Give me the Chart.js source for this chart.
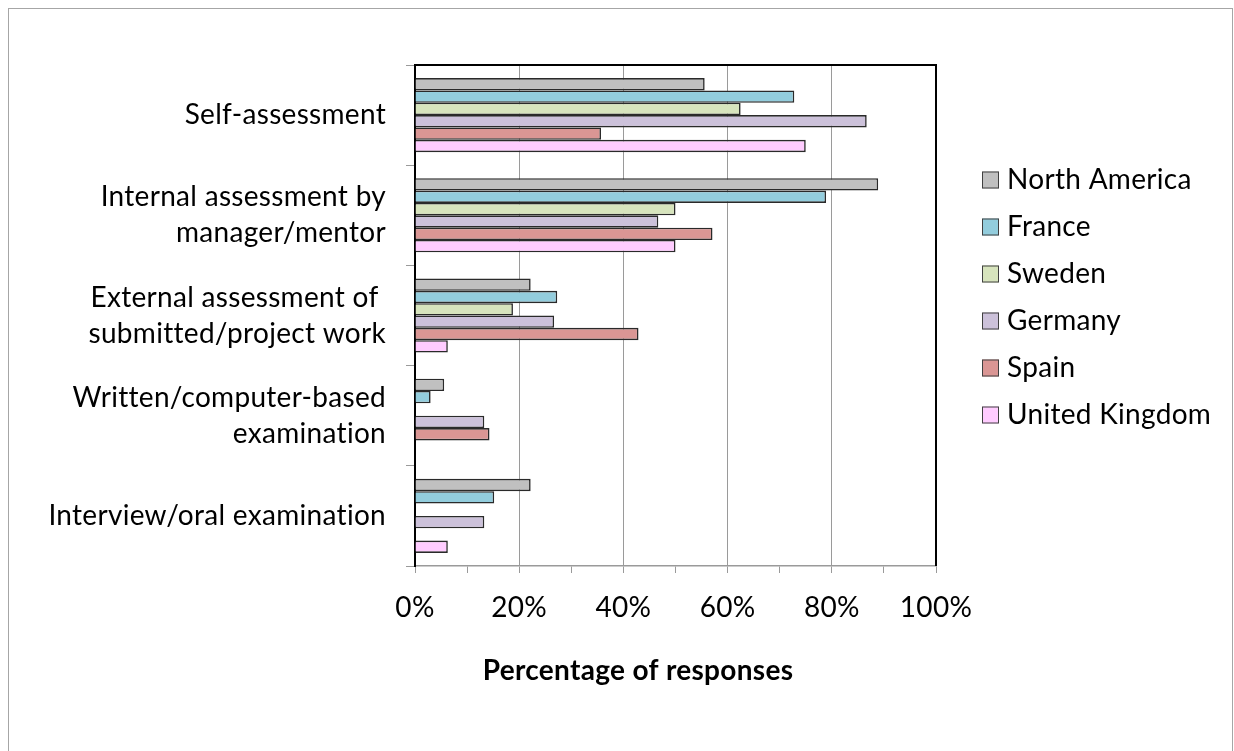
<!DOCTYPE html>
<html>
<head>
<meta charset="utf-8">
<title>Assessment methods</title>
<script src="https://cdn.jsdelivr.net/npm/chart.js@4.4.1/dist/chart.umd.min.js"></script>
<style>
    html, body { margin: 0; padding: 0; background: #fff; overflow: hidden; }
    #wrap { position: relative; width: 1234px; height: 751px; }
    #frame {
        position: absolute; left: 8px; top: 8px; width: 1225px; height: 800px;
        box-sizing: border-box; border: 1px solid #a6a6a6; pointer-events: none;
    }
    canvas { position: absolute; left: 0; top: 0; }
</style>
</head>
<body>
<div id="wrap">
    <canvas id="chart" width="1234" height="751"></canvas>
    <div id="frame"></div>
</div>
<script>
// Данные
const categories = [
    'Self-assessment',
    ['Internal assessment by', 'manager/mentor'],
    ['External assessment of ', 'submitted/project work'],
    ['Written/computer-based', 'examination'],
    'Interview/oral examination'
];
const seriesNames = ['North America', 'France', 'Sweden', 'Germany', 'Spain', 'United Kingdom'];
const northAmerica = [55.6, 88.9, 22.2, 5.6, 22.2];
const france = [72.8, 78.9, 27.3, 3.0, 15.2];
const sweden = [62.5, 50.0, 18.8, 0, 0];
const germany = [86.7, 46.7, 26.7, 13.3, 13.3];
const spain = [35.7, 57.1, 42.9, 14.3, 0];
const unitedKingdom = [75.0, 50.0, 6.3, 0, 6.3];
const xTicks = [0, 20, 40, 60, 80, 100];

const seriesValues = [northAmerica, france, sweden, germany, spain, unitedKingdom];
const seriesColors = ['#c0c0c0', '#93cddd', '#d7e4bd', '#ccc1da', '#da9694', '#ffccff'];

const FONT = 'Lato, "Open Sans", sans-serif';
const FONT_SIZE = 28;

// Рамка области построения, легенда и подпись оси
const decorPlugin = {
    id: 'decor',
    beforeDraw(chart) {
        // небольшой трекинг, заодно отключает лигатуру "ti" у Lato
        chart.ctx.letterSpacing = '0.3px';
    },
    afterDatasetsDraw(chart) {
        const { ctx, chartArea: a } = chart;
        ctx.save();
        ctx.strokeStyle = '#000';
        ctx.lineWidth = 2;
        ctx.beginPath();
        ctx.moveTo(a.left, a.top);
        ctx.lineTo(a.right, a.top);
        ctx.lineTo(a.right, a.bottom);
        ctx.stroke();
        ctx.restore();
    },
    afterDraw(chart) {
        const ctx = chart.ctx;
        ctx.save();
        ctx.textBaseline = 'middle';
        ctx.textAlign = 'left';
        ctx.font = FONT_SIZE + 'px ' + FONT;
        chart.data.datasets.forEach((ds, i) => {
            const y = 180 + i * 47;
            ctx.fillStyle = ds.backgroundColor;
            ctx.fillRect(982, y - 8.5, 17, 17);
            ctx.strokeStyle = '#404040';
            ctx.lineWidth = 1;
            ctx.strokeRect(982.5, y - 8, 16, 16);
            ctx.fillStyle = '#000';
            ctx.fillText(ds.label, 1007, y);
        });
        ctx.font = 'bold ' + FONT_SIZE + 'px ' + FONT;
        ctx.textAlign = 'center';
        ctx.fillText('Percentage of responses', 638, 671);
        ctx.restore();
    }
};

const ctx = document.getElementById('chart');
new Chart(ctx, {
    type: 'bar',
    data: {
        labels: categories,
        datasets: seriesNames.map((name, i) => ({
            label: name,
            data: seriesValues[i],
            backgroundColor: seriesColors[i],
            borderColor: '#2a2a2a',
            borderWidth: 1.6,
            categoryPercentage: 0.74,
            barPercentage: 1.0
        }))
    },
    options: {
        indexAxis: 'y',
        responsive: false,
        animation: false,
        layout: { padding: { top: 65, right: 298, bottom: 0, left: 10 } },
        plugins: {
            legend: { display: false },
            tooltip: { enabled: false }
        },
        scales: {
            x: {
                min: 0,
                max: 100,
                afterFit: (scale) => { scale.height = 185; },
                ticks: {
                    stepSize: 10,
                    autoSkip: false,
                    maxRotation: 0,
                    padding: 18,
                    color: '#000',
                    font: { family: FONT, size: FONT_SIZE },
                    callback: (v) => xTicks.includes(v) ? v + '%' : ''
                },
                grid: {
                    color: (c) => (c.tick && xTicks.includes(c.tick.value)) ? '#9a9a9a' : 'rgba(0,0,0,0)',
                    lineWidth: 1,
                    tickColor: '#9a9a9a',
                    tickLength: 7
                },
                border: { color: '#9a9a9a', width: 1.5 }
            },
            y: {
                afterFit: (scale) => { scale.width = 405; },
                ticks: {
                    padding: 20,
                    color: '#000',
                    font: { family: FONT, size: FONT_SIZE, lineHeight: 36 / FONT_SIZE }
                },
                grid: {
                    offset: true,
                    drawOnChartArea: false,
                    tickColor: '#9a9a9a',
                    tickLength: 9
                },
                border: { color: '#000', width: 2 }
            }
        }
    },
    plugins: [decorPlugin]
});
</script>
</body>
</html>
